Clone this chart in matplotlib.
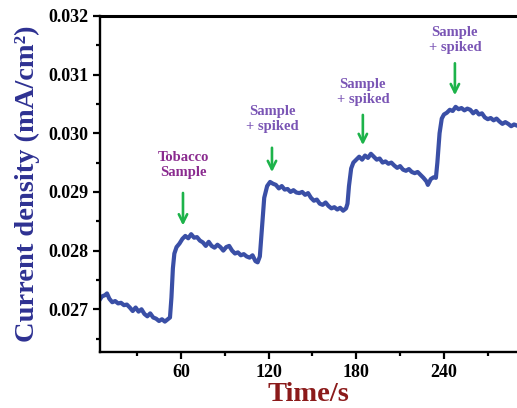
import numpy as np
import matplotlib.pyplot as plt

# time (s) and current density (mA/cm2)
time = [4.6, 6, 8, 9.4, 11, 13, 15, 17, 19, 21, 23, 25, 27, 29, 31, 33, 35, 37, 39, 41,
        43, 45, 47, 49, 51, 52.5, 53.5, 54.5, 55.5, 57, 59, 61, 63, 65, 67, 69, 71, 73, 75, 77,
        79, 81, 83, 85, 87, 89, 91, 93, 95, 97, 99, 101, 103, 105, 107, 109, 111, 112.5, 114, 115.5,
        117, 119, 121, 123, 125, 127, 129, 131, 133, 135, 137, 139, 141, 143, 145, 147, 149, 151, 153, 155,
        157, 159, 161, 163, 165, 167, 169, 171, 173, 174, 175, 176.5, 178, 180, 182, 184, 186, 188, 190, 192,
        194, 196, 198, 200, 202, 204, 206, 208, 210, 212, 214, 216, 218, 220, 222, 224, 226, 228, 229, 231,
        233, 234.5, 235.5, 237, 238.5, 240, 242, 244, 246, 248, 250, 252, 254, 256, 258, 260, 262, 264, 266, 268,
        270, 272, 274, 276, 278, 280, 282, 284, 286, 288, 290]
current = [0.02717, 0.02722, 0.02724, 0.02727, 0.02718, 0.02712, 0.02714, 0.02710, 0.02711, 0.02707,
           0.02708, 0.02703, 0.02697, 0.02703, 0.02696, 0.02700, 0.02692, 0.02688, 0.02693, 0.02686,
           0.02684, 0.02680, 0.02683, 0.02679, 0.02683, 0.02686, 0.02720, 0.02770, 0.02795, 0.02806,
           0.02812, 0.02820, 0.02825, 0.02821, 0.02828, 0.02822, 0.02823, 0.02817, 0.02814, 0.02808,
           0.02815, 0.02808, 0.02805, 0.02810, 0.02806, 0.02800, 0.02806, 0.02808, 0.02800, 0.02795,
           0.02797, 0.02792, 0.02794, 0.02790, 0.02788, 0.02792, 0.02782, 0.02780, 0.02790, 0.02840,
           0.02890, 0.02910, 0.02917, 0.02914, 0.02912, 0.02906, 0.02910, 0.02904, 0.02905, 0.02900,
           0.02903, 0.02899, 0.02898, 0.02900, 0.02895, 0.02898, 0.02890, 0.02885, 0.02887, 0.02880,
           0.02878, 0.02882, 0.02876, 0.02872, 0.02874, 0.02870, 0.02873, 0.02868, 0.02872, 0.02880,
           0.02910, 0.02940, 0.02950, 0.02955, 0.02960, 0.02955, 0.02962, 0.02958, 0.02965, 0.02960,
           0.02955, 0.02957, 0.02950, 0.02952, 0.02948, 0.02950, 0.02945, 0.02941, 0.02944, 0.02938,
           0.02936, 0.02939, 0.02934, 0.02932, 0.02934, 0.02929, 0.02924, 0.02918, 0.02912, 0.02922,
           0.02925, 0.02924, 0.02950, 0.03000, 0.03025, 0.03032, 0.03035, 0.03040, 0.03038, 0.03045,
           0.03041, 0.03043, 0.03039, 0.03042, 0.03040, 0.03034, 0.03038, 0.03032, 0.03034, 0.03027,
           0.03024, 0.03026, 0.03022, 0.03025, 0.03020, 0.03016, 0.03019, 0.03016, 0.03012, 0.03015,
           0.03013]

# annotations: label, arrow x, arrow tip y, arrow tail y, text y, colour
notes = [("Tobacco\nSample", 61.4, 0.02838, 0.02903, 0.02946, "#8a2b8f"),
         ("Sample\n+ spiked", 122.3, 0.02929, 0.02980, 0.03024, "#7a55b5"),
         ("Sample\n+ spiked", 184.5, 0.02975, 0.03036, 0.03070, "#7a55b5"),
         ("Sample\n+ spiked", 247.5, 0.03060, 0.03124, 0.03159, "#7a55b5")]

plt.rcParams['font.family'] = 'Liberation Serif'
plt.rcParams['font.weight'] = 'bold'

fig = plt.figure(figsize=(5.17, 4.08), dpi=100)
ax = fig.add_axes([0.1934, 0.137, 0.8066, 0.824])

ax.plot(time, current, color='#3a4fa6', linewidth=3.0)

for lab, x, tip, tail, ty, c in notes:
    ax.annotate('', xy=(x, tip), xytext=(x, tail),
                arrowprops=dict(arrowstyle='->', color='#1db34a', lw=1.9, mutation_scale=15))
    ax.text(x, ty, lab, ha='center', va='center', color=c, fontsize=10.5,
            fontweight='bold', linespacing=1.25)

ax.set_xlim(4.6, 290)
ax.set_ylim(0.02627, 0.032)
ax.set_xticks([60, 120, 180, 240])
ax.set_xticks([30, 90, 150, 210, 270], minor=True)
ax.set_yticks([0.027, 0.028, 0.029, 0.030, 0.031, 0.032])
ax.set_yticks([0.0265, 0.0275, 0.0285, 0.0295, 0.0305, 0.0315], minor=True)
ax.set_yticklabels([f'{v:.3f}' for v in [0.027, 0.028, 0.029, 0.030, 0.031, 0.032]])
ax.tick_params(which='major', direction='out', length=5, width=1.6, labelsize=13)
ax.tick_params(which='minor', direction='out', length=3, width=1.6)
for t in ax.get_xticklabels() + ax.get_yticklabels():
    t.set_fontweight('bold')

ax.spines['right'].set_visible(False)
ax.spines['top'].set_linewidth(2.2)
ax.spines['left'].set_linewidth(1.7)
ax.spines['bottom'].set_linewidth(1.7)

ax.set_xlabel('Time/s', fontsize=20.5, fontweight='bold', color='#8b1a1a', labelpad=1)
ax.set_ylabel('Current density (mA/cm²)', fontsize=20.5, fontweight='bold', color='#2e3192', labelpad=6)

fig.savefig('out.png', dpi=100)
